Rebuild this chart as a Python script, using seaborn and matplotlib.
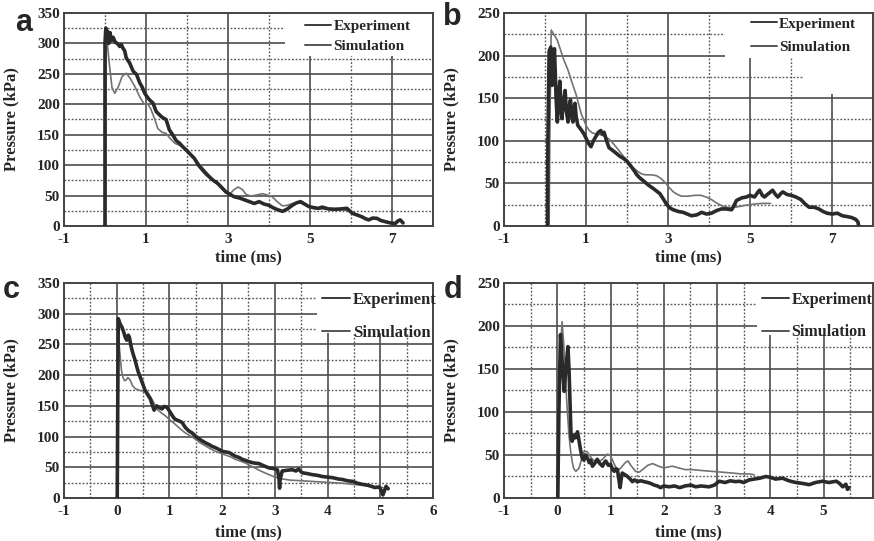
import matplotlib
matplotlib.use("Agg")
import matplotlib.pyplot as plt
from matplotlib.patches import Rectangle
import seaborn as sns
import pandas as pd

# --- data: (time in ms, pressure in kPa) ---
A_EXP = [(0.0, 0), (0.0, 300), (0.02, 325), (0.04, 305), (0.06, 320), (0.09, 300), (0.12, 318),
         (0.16, 305), (0.2, 310), (0.25, 302), (0.3, 300), (0.36, 295), (0.4, 298), (0.44, 292),
         (0.48, 288), (0.52, 276), (0.6, 268), (0.69, 254), (0.77, 249), (0.85, 235), (0.91, 228),
         (0.97, 218), (1.03, 212), (1.09, 207), (1.17, 202), (1.25, 188), (1.31, 184), (1.37, 180),
         (1.43, 177), (1.49, 175), (1.57, 158), (1.65, 150), (1.74, 140), (1.82, 136), (1.9, 130),
         (1.98, 125), (2.08, 118), (2.18, 111), (2.28, 100), (2.38, 92), (2.46, 86), (2.54, 81),
         (2.64, 75), (2.75, 70), (2.85, 63), (2.95, 56), (3.05, 52), (3.15, 48), (3.28, 46),
         (3.4, 43), (3.52, 40), (3.64, 37), (3.76, 40), (3.88, 36), (4.0, 34), (4.1, 30), (4.2, 27),
         (4.33, 24), (4.45, 28), (4.57, 34), (4.67, 38), (4.77, 40), (4.87, 36), (4.97, 32),
         (5.1, 30), (5.2, 29), (5.3, 31), (5.45, 28), (5.62, 27.5), (5.75, 28), (5.9, 29),
         (6.03, 21), (6.15, 18), (6.27, 15), (6.35, 12), (6.43, 10), (6.53, 13), (6.63, 12.6),
         (6.73, 9), (6.84, 7), (6.96, 5), (7.08, 4), (7.14, 8), (7.2, 10), (7.27, 5)]
A_SIM = [(0.02, 0), (0.03, 320), (0.1, 270), (0.17, 228), (0.24, 218), (0.32, 228), (0.42, 246),
         (0.52, 251), (0.62, 242), (0.73, 229), (0.85, 212), (0.95, 201), (1.05, 200), (1.12, 192),
         (1.2, 178), (1.29, 160), (1.39, 154), (1.49, 152), (1.6, 143), (1.7, 136), (1.8, 133),
         (1.9, 130), (2.0, 124), (2.1, 117), (2.22, 108), (2.35, 98), (2.48, 88), (2.6, 78),
         (2.72, 70), (2.84, 62), (2.94, 55), (3.04, 52), (3.15, 60), (3.25, 64), (3.35, 60),
         (3.44, 52), (3.56, 49), (3.7, 51), (3.84, 53), (3.96, 51), (4.08, 48), (4.2, 40),
         (4.33, 33), (4.45, 34), (4.57, 37), (4.7, 38), (4.82, 37), (4.92, 33), (5.05, 29),
         (5.2, 28), (5.4, 28), (5.6, 27), (5.8, 27), (5.95, 24)]

B_EXP = [(0.06, 0), (0.07, 100), (0.1, 205), (0.14, 210), (0.17, 165), (0.2, 195), (0.23, 208),
         (0.27, 150), (0.3, 122), (0.33, 150), (0.36, 170), (0.39, 140), (0.41, 126), (0.45, 145),
         (0.49, 159), (0.52, 135), (0.56, 122), (0.59, 140), (0.62, 148), (0.65, 130), (0.68, 122),
         (0.71, 138), (0.73, 144), (0.76, 128), (0.8, 118), (0.88, 113), (0.95, 108), (1.0, 103),
         (1.06, 97), (1.12, 93), (1.18, 100), (1.24, 105), (1.3, 110), (1.36, 112), (1.4, 108),
         (1.44, 110), (1.5, 100), (1.56, 92), (1.64, 89), (1.72, 86), (1.82, 82), (1.92, 79),
         (2.0, 76), (2.08, 71), (2.16, 66), (2.24, 60), (2.32, 56), (2.4, 53), (2.52, 48),
         (2.64, 44), (2.72, 41), (2.8, 38), (2.88, 32), (2.97, 25), (3.05, 21), (3.13, 19),
         (3.25, 17), (3.37, 16), (3.47, 14), (3.57, 12), (3.7, 13), (3.82, 16), (3.94, 14),
         (4.06, 15), (4.18, 18), (4.3, 20), (4.42, 20), (4.55, 19), (4.62, 25), (4.67, 30),
         (4.8, 33), (4.91, 34), (5.0, 36), (5.11, 34), (5.18, 39), (5.23, 42), (5.3, 36),
         (5.35, 34), (5.45, 38), (5.55, 42), (5.62, 37), (5.68, 34), (5.75, 38), (5.8, 40),
         (5.9, 37), (6.0, 36), (6.12, 34), (6.24, 31), (6.34, 26), (6.44, 22), (6.56, 22),
         (6.68, 20), (6.78, 17), (6.88, 15), (7.0, 14), (7.13, 15), (7.25, 12), (7.37, 11),
         (7.47, 10), (7.57, 8), (7.63, 5), (7.65, 0)]
B_SIM = [(0.1, 0), (0.12, 120), (0.15, 230), (0.3, 218), (0.45, 196), (0.56, 183), (0.66, 168),
         (0.76, 154), (0.88, 132), (1.0, 118), (1.08, 112), (1.16, 109), (1.26, 108), (1.36, 107),
         (1.46, 105), (1.56, 102), (1.66, 97), (1.76, 91), (1.86, 85), (1.96, 79), (2.06, 73),
         (2.16, 68), (2.26, 64), (2.36, 61), (2.46, 60), (2.6, 60), (2.72, 59), (2.82, 56),
         (2.93, 51), (3.03, 45), (3.13, 40), (3.23, 37), (3.33, 35), (3.5, 35), (3.65, 36),
         (3.8, 36), (3.93, 34), (4.06, 31), (4.18, 27), (4.3, 24), (4.42, 22), (4.55, 21.5),
         (4.7, 22.5), (4.85, 24), (5.0, 25), (5.15, 26), (5.3, 26.5), (5.5, 26.5)]

C_EXP = [(0.01, 0), (0.02, 150), (0.03, 292), (0.06, 284), (0.1, 278), (0.13, 271), (0.16, 262),
         (0.19, 257), (0.22, 265), (0.24, 262), (0.27, 248), (0.29, 241), (0.32, 232), (0.35, 224),
         (0.38, 214), (0.41, 205), (0.45, 196), (0.48, 189), (0.51, 182), (0.54, 175), (0.59, 168),
         (0.64, 161), (0.68, 150), (0.71, 143), (0.74, 148), (0.76, 150), (0.81, 147), (0.86, 145),
         (0.9, 149), (0.95, 148), (0.99, 143), (1.02, 139), (1.07, 132), (1.11, 128), (1.17, 126),
         (1.24, 123), (1.3, 115), (1.37, 109), (1.43, 106), (1.49, 101), (1.55, 97), (1.62, 93),
         (1.68, 90), (1.75, 87), (1.81, 84), (1.87, 82), (1.94, 79), (2.0, 76), (2.06, 75),
         (2.13, 74), (2.19, 71), (2.25, 68), (2.32, 66), (2.38, 63), (2.45, 61), (2.51, 59),
         (2.6, 57), (2.7, 56), (2.8, 52), (2.89, 49), (2.97, 48), (3.05, 46), (3.08, 30),
         (3.09, 16), (3.1, 30), (3.14, 44), (3.22, 45), (3.33, 46), (3.4, 44), (3.45, 47),
         (3.52, 41), (3.6, 40), (3.71, 38), (3.8, 37), (3.9, 35), (4.0, 34), (4.1, 33), (4.2, 31),
         (4.29, 30), (4.38, 28), (4.48, 27), (4.57, 24), (4.67, 22), (4.75, 21), (4.83, 19),
         (4.9, 17), (4.98, 18), (5.02, 12), (5.05, 5), (5.08, 12), (5.11, 19), (5.15, 15)]
C_SIM = [(0.05, 246), (0.09, 208), (0.12, 196), (0.15, 191), (0.18, 192), (0.21, 196), (0.25, 193),
         (0.3, 183), (0.35, 178), (0.44, 175), (0.52, 174), (0.58, 172), (0.63, 166), (0.7, 156),
         (0.76, 145), (0.84, 139), (0.92, 134), (1.01, 127), (1.11, 120), (1.2, 113), (1.3, 106),
         (1.4, 101), (1.49, 96), (1.58, 90), (1.68, 85), (1.78, 80), (1.87, 76), (1.97, 73),
         (2.06, 70), (2.16, 67), (2.25, 63), (2.35, 60), (2.44, 57), (2.55, 52), (2.66, 47),
         (2.78, 42), (2.89, 38), (3.0, 34), (3.14, 31), (3.3, 29), (3.52, 28), (3.7, 27),
         (3.9, 26), (4.1, 25), (4.29, 24), (4.5, 22), (4.67, 21), (4.85, 19), (5.05, 17)]

D_EXP = [(0.01, 0), (0.03, 100), (0.06, 190), (0.09, 160), (0.13, 124), (0.16, 150), (0.2, 176),
         (0.22, 150), (0.24, 110), (0.26, 69), (0.28, 66), (0.31, 73), (0.34, 70), (0.38, 77),
         (0.41, 66), (0.44, 55), (0.47, 46), (0.5, 44), (0.53, 50), (0.57, 46), (0.6, 41),
         (0.63, 44), (0.66, 37), (0.7, 40), (0.75, 45), (0.8, 40), (0.85, 37), (0.88, 41),
         (0.91, 43), (0.96, 38), (1.0, 39), (1.04, 33), (1.07, 31), (1.1, 34), (1.13, 33),
         (1.16, 20), (1.18, 12), (1.2, 22), (1.22, 29), (1.27, 27), (1.32, 25), (1.37, 22),
         (1.41, 19), (1.45, 21), (1.5, 19), (1.57, 20), (1.63, 19), (1.7, 18), (1.75, 17),
         (1.82, 15), (1.88, 14), (1.94, 12), (2.0, 14), (2.1, 13), (2.2, 14), (2.3, 12), (2.4, 14),
         (2.51, 15), (2.6, 13), (2.7, 14), (2.85, 13), (2.95, 15), (3.04, 19.5), (3.15, 18),
         (3.25, 20), (3.35, 19), (3.42, 19.5), (3.5, 18), (3.6, 21), (3.7, 22), (3.8, 23),
         (3.92, 25), (4.0, 24), (4.1, 22), (4.23, 23), (4.35, 20), (4.48, 18), (4.6, 17),
         (4.73, 15.5), (4.85, 18), (4.98, 19.5), (5.1, 18), (5.24, 19.5), (5.3, 17), (5.36, 13),
         (5.42, 16), (5.45, 10), (5.48, 12)]
D_SIM = [(0.0, 0), (0.05, 160), (0.09, 205), (0.12, 180), (0.16, 132), (0.19, 100), (0.22, 73),
         (0.25, 55), (0.28, 42), (0.31, 34), (0.35, 31), (0.41, 35), (0.46, 46), (0.5, 54),
         (0.56, 54), (0.61, 49), (0.66, 45), (0.75, 41), (0.85, 45), (0.94, 51), (0.99, 50),
         (1.03, 45), (1.08, 38), (1.13, 33), (1.18, 34), (1.22, 37), (1.29, 42), (1.33, 43),
         (1.38, 38), (1.47, 31), (1.54, 30), (1.62, 34), (1.7, 38), (1.79, 40), (1.9, 37),
         (2.0, 35), (2.08, 36), (2.16, 37), (2.28, 35), (2.4, 33), (2.54, 33), (2.7, 32),
         (2.9, 31), (3.1, 30), (3.29, 29), (3.45, 28), (3.6, 28), (3.7, 27)]

LABELS = ["Experiment", "Simulation"]

sns.set_style("white")
plt.rcParams["font.family"] = ["Liberation Serif", "DejaVu Serif"]
plt.rcParams["font.weight"] = "bold"
plt.rcParams["axes.labelweight"] = "bold"
plt.rcParams["axes.unicode_minus"] = False

EXP_COLOR = "#2a2a2a"
SIM_COLOR = "#727272"
GRID_MAJOR = "#4d4d4d"
GRID_MINOR = "#5a5a5a"

fig = plt.figure(figsize=(8.74, 5.41), dpi=100)

panels = [
    dict(letter="a", exp=A_EXP, sim=A_SIM, rect=[0.0732, 0.5823, 0.4222, 0.3937],
         xlim=(-1, 8), xmaj=[-1, 1, 3, 5, 7], xmin=[0, 2, 4, 6],
         ylim=(0, 350), ymaj=list(range(0, 351, 50)), ymin=list(range(25, 350, 50)),
         lpos=(0.027, 0.958), leg=dict(anchor=(0.645, 0.985), fs=11, sp=0.42),
         boxes=[(0.6, 0.8, 0.4, 0.2)], xl=-0.11),
    dict(letter="b", exp=B_EXP, sim=B_SIM, rect=[0.5767, 0.5823, 0.4222, 0.3937],
         xlim=(-1, 8), xmaj=[-1, 1, 3, 5, 7], xmin=[0, 2, 4, 6],
         ylim=(0, 250), ymaj=list(range(0, 251, 50)), ymin=list(range(25, 250, 50)),
         lpos=(0.517, 0.968), leg=dict(anchor=(0.66, 0.995), fs=11, sp=0.62),
         boxes=[(0.6, 0.79, 0.4, 0.21), (0.81, 0.62, 0.19, 0.17)], xl=-0.11),
    dict(letter="c", exp=C_EXP, sim=C_SIM, rect=[0.0732, 0.0795, 0.4222, 0.3974],
         xlim=(-1, 6), xmaj=list(range(-1, 7)), xmin=[x + 0.5 for x in range(-1, 6)],
         ylim=(0, 350), ymaj=list(range(0, 351, 50)), ymin=list(range(25, 350, 50)),
         lpos=(0.013, 0.464), leg=dict(anchor=(0.69, 0.975), fs=12, sp=1.05),
         boxes=[(0.686, 0.766, 0.314, 0.234)], xl=-0.125),
    dict(letter="d", exp=D_EXP, sim=D_SIM, rect=[0.5767, 0.0795, 0.4222, 0.3974],
         xlim=(-1, 5.93), xmaj=list(range(-1, 6)), xmin=[x + 0.5 for x in range(-1, 6)],
         ylim=(0, 250), ymaj=list(range(0, 251, 50)), ymin=list(range(25, 250, 50)),
         lpos=(0.518, 0.464), leg=dict(anchor=(0.69, 0.975), fs=11.5, sp=1.05),
         boxes=[(0.685, 0.76, 0.315, 0.24)], xl=-0.125),
]

for p in panels:
    ax = fig.add_axes(p["rect"])
    exp_df = pd.DataFrame(p["exp"], columns=["time", "pressure"])
    sim_df = pd.DataFrame(p["sim"], columns=["time", "pressure"])
    sns.lineplot(data=exp_df, x="time", y="pressure", ax=ax, color=EXP_COLOR,
                 linewidth=2.6, estimator=None, sort=False, label=LABELS[0], zorder=4)
    sns.lineplot(data=sim_df, x="time", y="pressure", ax=ax, color=SIM_COLOR,
                 linewidth=1.2, estimator=None, sort=False, label=LABELS[1], zorder=3)

    ax.set_xlim(*p["xlim"])
    ax.set_ylim(*p["ylim"])
    ax.set_xticks(p["xmaj"])
    ax.set_xticks(p["xmin"], minor=True)
    ax.set_yticks(p["ymaj"])
    ax.set_yticks(p["ymin"], minor=True)
    ax.set_axisbelow(True)
    ax.grid(which="major", color=GRID_MAJOR, linewidth=1.2, linestyle="-")
    ax.grid(which="minor", color=GRID_MINOR, linewidth=1.0, linestyle=(0, (1.3, 1.3)))
    ax.tick_params(which="both", length=0, labelsize=11)
    ax.tick_params(axis="x", pad=5)
    ax.tick_params(axis="y", pad=3)
    for s in ax.spines.values():
        s.set_color("#444444")
        s.set_linewidth(1.4)

    # blank area behind the legend
    for (bx, by, bw, bh) in p["boxes"]:
        ax.add_patch(Rectangle((bx, by), bw, bh, transform=ax.transAxes,
                               facecolor="white", edgecolor="none", zorder=1.5))

    ax.set_xlabel("time (ms)", fontsize=12, fontweight="bold")
    ax.set_ylabel("Pressure (kPa)", fontsize=12, fontweight="bold")
    ax.xaxis.set_label_coords(0.5, p["xl"])
    ax.yaxis.set_label_coords(-0.12, 0.5)

    lg = p["leg"]
    leg = ax.legend(loc="upper left", bbox_to_anchor=lg["anchor"], frameon=False,
                    fontsize=lg["fs"], handlelength=1.7, handletextpad=0.15,
                    labelspacing=lg["sp"], borderpad=0.2, borderaxespad=0)
    for h, c in zip(leg.get_lines(), ["#3a3a3a", "#555555"]):
        h.set_linewidth(1.4)
        h.set_color(c)

    fig.text(p["lpos"][0], p["lpos"][1], p["letter"], fontsize=22, fontweight="bold",
             family=["Liberation Sans", "DejaVu Sans"], ha="center", va="center")

fig.savefig("out.png", dpi=100)
